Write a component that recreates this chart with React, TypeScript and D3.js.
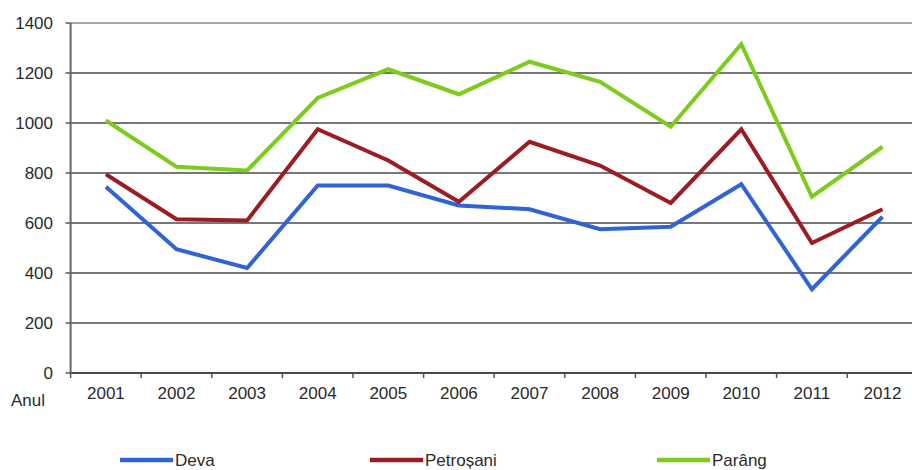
import React from "react";
import * as d3 from "d3";

const years = ["2001","2002","2003","2004","2005","2006","2007","2008","2009","2010","2011","2012"];
const deva = [745, 495, 420, 750, 750, 670, 655, 575, 585, 755, 335, 625];
const petrosani = [795, 615, 610, 975, 850, 685, 925, 830, 680, 975, 520, 655];
const parang = [1010, 825, 810, 1100, 1215, 1115, 1245, 1165, 985, 1315, 705, 905];
const yTicks = [0, 200, 400, 600, 800, 1000, 1200, 1400];
const seriesNames = ["Deva", "Petroșani", "Parâng"];
const seriesColors = ["#2f63d6", "#9c1c22", "#7ccc1c"];

const W = 912, H = 470;
const left = 70.6, right = 917.8, top = 23, bottom = 373;

export default function App() {
  const x = d3.scaleBand<string>().domain(years).range([left, right]).padding(0);
  const y = d3.scaleLinear().domain([0, 1400]).range([bottom, top]);
  const line = d3.line<number>()
    .x((_, i) => (x(years[i]) as number) + x.bandwidth() / 2)
    .y(d => y(d));
  const series = [deva, petrosani, parang];
  const legendX = [120, 370, 657];
  const font = "'Liberation Sans', Arial, sans-serif";
  const ticksX = years.map(yr => x(yr) as number).concat([right]);
  return (
    <div style={{ position: "absolute", left: 0, top: 0 }}>
      <svg width={W} height={H} style={{ display: "block", background: "#fff" }}>
        {yTicks.map(t => (
          <g key={t}>
            <line x1={left} x2={W} y1={y(t)} y2={y(t)} stroke={t === 1400 ? "#8a8a8a" : "#4a4a4a"} strokeWidth={t === 0 ? 2 : 1.6} />
            <line x1={left - 5} x2={left} y1={y(t)} y2={y(t)} stroke="#555" strokeWidth={1.5} />
            <text x={53} y={y(t)} dy="0.35em" textAnchor="end" fontFamily={font} fontSize={17} fill="#2a2a2a">{t}</text>
          </g>
        ))}
        <line x1={left} x2={left} y1={top} y2={bottom + 1} stroke="#666" strokeWidth={2} />
        {ticksX.map((tx, i) => (
          <line key={i} x1={tx} x2={tx} y1={bottom} y2={bottom + 5} stroke="#555" strokeWidth={1.5} />
        ))}
        {years.map(yr => (
          <text key={yr} x={(x(yr) as number) + x.bandwidth() / 2} y={399} textAnchor="middle" fontFamily={font} fontSize={17} fill="#2a2a2a">{yr}</text>
        ))}
        <text x={11} y={406} fontFamily={font} fontSize={17} fill="#2a2a2a">Anul</text>
        {series.map((s, i) => (
          <path key={i} d={line(s) || ""} fill="none" stroke={seriesColors[i]} strokeWidth={4} strokeLinejoin="miter" />
        ))}
        {seriesNames.map((n, i) => (
          <g key={n}>
            <line x1={legendX[i]} x2={legendX[i] + 53} y1={460} y2={460} stroke={seriesColors[i]} strokeWidth={4.5} />
            <text x={legendX[i] + 55} y={466} fontFamily={font} fontSize={17} fill="#2a2a2a">{n}</text>
          </g>
        ))}
      </svg>
    </div>
  );
}
